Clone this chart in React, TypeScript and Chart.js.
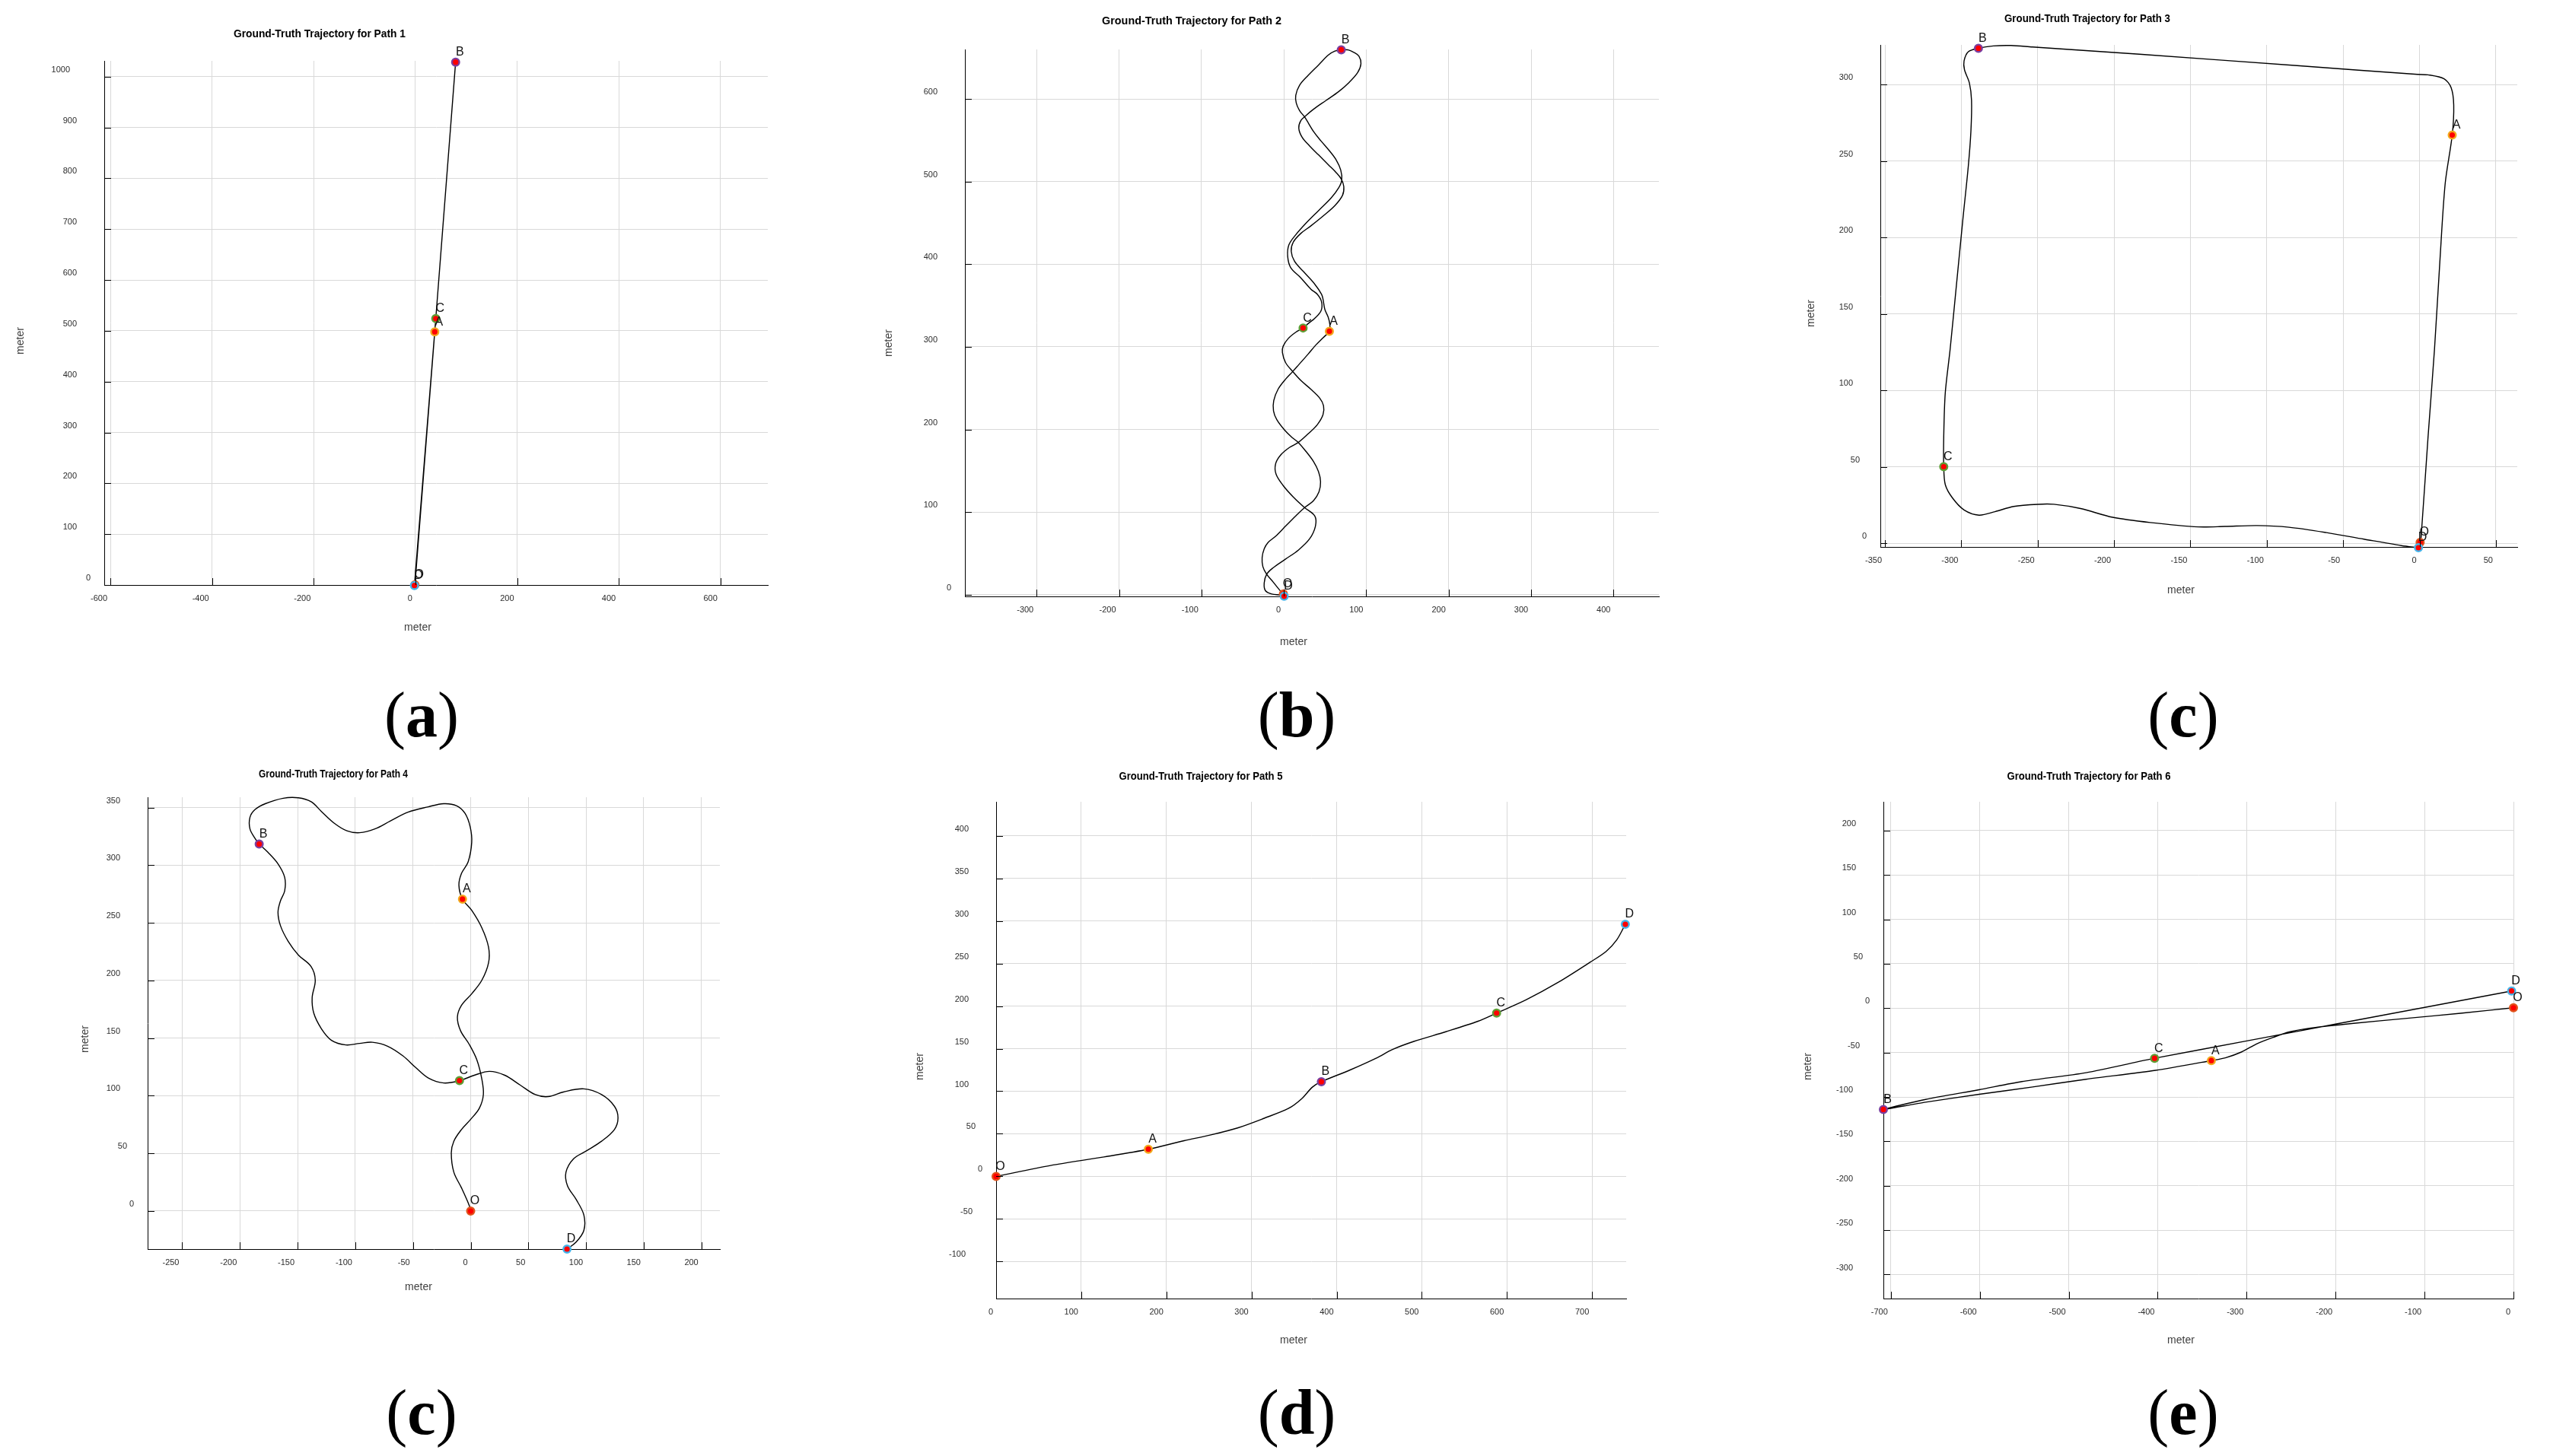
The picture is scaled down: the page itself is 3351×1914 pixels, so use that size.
import React, { useEffect, useRef } from 'react';
import { Chart, registerables } from 'chart.js';

Chart.register(...registerables);

// ---------- data ----------
const markerNames = ['O', 'A', 'B', 'C', 'D'];
const markerRing = ['#e0521b', '#f2a81d', '#7b3fa0', '#5f9e35', '#45b4ea'];

const panelTitles = [
  'Ground-Truth Trajectory for Path 1',
  'Ground-Truth Trajectory for Path 2',
  'Ground-Truth Trajectory for Path 3',
  'Ground-Truth Trajectory for Path 4',
  'Ground-Truth Trajectory for Path 5',
  'Ground-Truth Trajectory for Path 6',
];
const panelLetters = ['a', 'b', 'c', 'c', 'd', 'e'];
const axisTitle = 'meter';

// Path 1
const path1X = [-1, 38, 79, 40, -2];
const path1Y = [0.5, 498, 1028.5, 524, -1];
const marks1X = [-1, 38, 79, 40, -2];
const marks1Y = [0.5, 498, 1028.5, 524, -1];
const ticks1X = [-600, -400, -200, 0, 200, 400, 600];
const ticks1Y = [0, 100, 200, 300, 400, 500, 600, 700, 800, 900, 1000];

// Path 2 (O->A, A->B, B->C, C->D)
const path2X = [
  -0.6, -4, -13.2, -20.9, -25.5, -26.4, -23.9, -19.3, -10.1, 2.1, 14.4, 25.1, 35.9, 42.6, 44.5, 42, 35.9, 26.7, 17.5, 9.8, 0.6, -8.6, -12.6, -12.3, -7.1, 2.1, 10.7, 17.5, 29.7, 38.9, 48.1, 55.2,
  55.8, 53.7, 49.7, 47.5, 45.7, 37.4, 23.6, 12.9, 8.9, 11.3, 20.5, 32.8, 48.1, 61.9, 71.1, 72.7, 69.6, 63.5, 54.3, 42, 31.3, 22.1, 18.1, 20.5, 26.7, 35.9, 51.2, 66.5, 78.8, 89.5, 93.5, 91.1, 84.9, 77.3, 69.6,
  61.9, 54.3, 42, 29.7, 19, 14.4, 15, 19, 25.1, 36.5, 45.1, 54.3, 63.5, 69, 70.2, 66.5, 57.3, 42, 26.7, 14.4, 6.1, 4.6, 8.3, 20.5, 32.8, 40.5, 45.7, 45.1, 37.4, 29.7, 23.3,
  14.4, 5.2, -0.9, -1.8, 2.1, 10.7, 20.5, 32.8, 43.5, 48.1, 47.5, 40.5, 29.7, 17.5, 6.7, -4, -10.1, -9.5, -0.9, 11.3, 25.1, 37.4, 38.3, 31.3, 17.5, 2.1, -13.2, -20.9, -23.9, -22.4, -14.7, -4, 0.3,
];
const path2Y = [
  0.9, 4.3, 15.6, 24.8, 34, 44.8, 55.5, 63.2, 70.8, 83.1, 95.4, 105.5, 113.8, 124.5, 136.8, 149, 161.3, 173.6, 184.3, 190.4, 199.6, 211.9, 222.6, 234.9, 248.7, 261, 270.2, 277.8, 291.6, 302.4, 311.6, 318.9,
  326.9, 336.1, 345.3, 357.6, 363.7, 376, 391.3, 403.6, 415.8, 426.6, 437.3, 446.5, 458.8, 471, 483.3, 494, 503.2, 510.9, 520.1, 532.4, 543.1, 553.8, 564.6, 573.8, 579.9, 587.6, 598.3, 609, 619.8, 632, 642.7, 651.9, 656.5, 659.6, 659.6,
  658.1, 653.5, 641.2, 628.9, 616.7, 604.4, 595.2, 586, 578.3, 559.9, 549.2, 538.5, 526.2, 513.9, 501.7, 492.5, 480.2, 464.9, 449.6, 435.7, 423.5, 409.7, 395.9, 383.6, 369.8, 363.7, 354.5, 343.8, 334.6, 328.4, 322.9,
  317.7, 310, 300.8, 293.2, 280.9, 270.2, 259.4, 248.7, 238, 228.8, 218, 205.8, 195, 184.3, 178.2, 169, 158.2, 146, 132.2, 118.4, 105.5, 95.4, 83.1, 67.8, 54, 43.2, 32.5, 24.8, 14.1, 4.9, 0.9, -0.3, -1.8,
];
const marks2X = [-0.6, 55.2, 69.6, 23.3, 0.3];
const marks2Y = [0.9, 318.9, 659.6, 322.9, -1.8];
const ticks2X = [-300, -200, -100, 0, 100, 200, 300, 400];
const ticks2Y = [0, 100, 200, 300, 400, 500, 600];

// Path 3
const path3X = [0.4, 1.05, 5.6, 9.8, 13.3, 16.8, 21.4, 22.4, 20.7, 16.1, 5.6, -1.4, -78.4, -183.4, -253.4, -267.4, -279, -288.8, -295.4, -298.2, -297.9, -294.7, -293.3, -293.7, -295.4, -298.9, -303.1, -307.3, -310.5, -311.5, -311.5, -310.5, -305.9, -298.2, -288.4, -277.9, -265.7, -249.9, -239.4, -221.9, -200.9, -176.4, -144.9, -127.4, -106.4, -85.4, -60.9, -36.4, -11.9, -0.7];
const path3Y = [0.6, 4.2, 69.8, 126.9, 184, 235.3, 267, 286.6, 298, 303.8, 306.4, 306.7, 312.3, 319.9, 324.6, 325.6, 325.3, 323.8, 321.5, 315.5, 309.7, 301.1, 289.7, 269.7, 246.8, 212.6, 169.8, 127, 98.3, 69.8, 50.1, 38.4, 29.8, 21.8, 18.4, 20.7, 24.1, 25.5, 25.5, 22.7, 17, 13.6, 10.7, 11, 11.6, 10.5, 7, 2.7, -1.5, -2.9];
const marks3X = [0.4, 21.4, -288.8, -311.5, -0.7];
const marks3Y = [0.6, 267, 323.8, 50.1, -2.9];
const ticks3X = [-350, -300, -250, -200, -150, -100, -50, 0, 50];
const ticks3Y = [0, 50, 100, 150, 200, 250, 300];

// Path 4
const path4X = [0, -1.3, -8, -14.6, -16.8, -14.6, -8, -0.4, 7.5, 11, 9.7, 5.3, -1.3, -8.8, -11.5, -8, 0.9, 9.7, 15.5, 15.5, 9.7, 0.9, -7.1, -10.2, -8, -2.2, 0.9, -0.4, -4.9, -12.4, -23.4, -36.7, -54.3, -69.8, -83, -96.3, -107.3, -118.4, -129.4, -138.3, -149.3, -162.5, -178, -186.8, -191.3, -191.3, -186.8, -183.3, -175.8, -167, -161.2, -161.2, -164.8, -167, -164.8, -158.1, -149.3, -138.3, -134.7, -137.4, -136, -129.4, -120.6, -108.2, -96.3, -85.2, -72, -58.7, -47.7, -36.7, -23.4, -9.7, 3.1, 16.3, 29.6, 42.8, 56.1, 67.1, 80.4, 98.1, 113.5, 124.6, 127.7, 124.6, 113.5, 100.3, 89.2, 82.6, 83.9, 91.4, 98.1, 98.1, 91.4, 83.5];
const path4Y = [0, 5, 20.2, 33.7, 50.5, 60.6, 70.7, 79.1, 89.2, 101, 114.4, 131.3, 144.7, 156.5, 168.3, 178.4, 188.5, 200.3, 215.4, 228.9, 245.7, 260.9, 270.6, 282.7, 292.8, 302.9, 319.8, 333.2, 345, 351.7, 353.4, 350.7, 346, 338.3, 331.5, 328.2, 329.9, 336.6, 346.7, 355.1, 358.5, 358.1, 353.4, 348.4, 341.6, 331.5, 323.1, 318.4, 311.3, 301.2, 289.5, 277.7, 269.3, 259.2, 247.4, 233.9, 222.1, 212.1, 200.3, 185.1, 171.7, 158.2, 148.1, 144.1, 145.4, 146.4, 143, 134.6, 124.5, 115.4, 111.1, 113.1, 117.8, 121.2, 117.8, 109.4, 101, 99.3, 103.3, 106, 101, 90.9, 80.8, 70.7, 60.6, 52.2, 45.4, 33.7, 21.9, 10.1, -3.4, -16.8, -26.9, -33];
const marks4X = [0, -7.1, -183.3, -9.7, 83.5];
const marks4Y = [0, 270.6, 318.4, 113.1, -33];
const ticks4X = [-250, -200, -150, -100, -50, 0, 50, 100, 150, 200];
const ticks4Y = [0, 50, 100, 150, 200, 250, 300, 350];

// Path 5
const path5X = [0, 64, 126.7, 178.8, 220.8, 252.2, 283.6, 314.9, 343.2, 358.8, 371.4, 382, 415.3, 446.7, 465.5, 490.6, 528.2, 565.9, 587.8, 622.3, 660, 697.6, 716.4, 729, 739];
const path5Y = [0, 12.8, 22.8, 31.9, 41.9, 48.7, 56.9, 68.3, 79.7, 91.1, 104.8, 111.2, 124.8, 139, 149, 158.5, 169.9, 182.2, 191.8, 207.3, 227.8, 251.5, 264.2, 277.9, 296.1];
const marks5X = [0, 178.8, 382, 587.8, 739];
const marks5Y = [0, 31.9, 111.2, 191.8, 296.1];
const ticks5X = [0, 100, 200, 300, 400, 500, 600, 700];
const ticks5Y = [-100, -50, 0, 50, 100, 150, 200, 250, 300, 350, 400];

// Path 6
const path6X = [0, -59.5, -119.7, -179.8, -227.9, -252, -270, -288, -306, -324, -339.7, -402.3, -480.5, -540.6, -600.7, -660.9, -708.4, -660.9, -600.7, -552.6, -480.5, -403.5, -300, -200.2, -99.8, -2.1];
const path6Y = [0.5, -5.7, -11.4, -17, -22.3, -26.7, -32.8, -39.8, -49.4, -55.9, -59, -70, -80, -88.7, -97, -105.8, -114, -102.7, -91.8, -82.6, -72.6, -56.4, -36.9, -17.9, 0.9, 19.4];
const marks6X = [0, -339.7, -708.4, -403.5, -2.1];
const marks6Y = [0.5, -59, -114, -56.4, 19.4];
const ticks6X = [-700, -600, -500, -400, -300, -200, -100, 0];
const ticks6Y = [-300, -250, -200, -150, -100, -50, 0, 50, 100, 150, 200];

// ---------- layout (page pixels) ----------
const layouts = [
  { L: 137, T: 80, R: 1009, B: 769, xMin: -612, xMax: 693, yMin: 0, yMax: 1031, title: [420, 45, 226], xt: [549, 825], yt: [27, 448], tension: 0 },
  { L: 1268, T: 65, R: 2180, B: 784, xMin: -387, xMax: 455, yMin: -2, yMax: 660, title: [1566, 28, 236], xt: [1700, 844], yt: [1168, 451], tension: 0.35 },
  { L: 2471, T: 59, R: 3308, B: 719, xMin: -353, xMax: 64, yMin: -2.4, yMax: 326, title: [2743, 25, 218], xt: [2866, 776], yt: [2380, 412], tension: 0.3 },
  { L: 194, T: 1048, R: 946, B: 1642, xMin: -280, xMax: 216, yMin: -33, yMax: 359, title: [438, 1018, 196], xt: [550, 1692], yt: [112, 1366], tension: 0.35 },
  { L: 1309, T: 1054, R: 2137, B: 1707, xMin: 0, xMax: 740, yMin: -143.5, yMax: 440, title: [1578, 1021, 215], xt: [1700, 1762], yt: [1209, 1402], tension: 0.3 },
  { L: 2475, T: 1054, R: 3303, B: 1707, xMin: -708.4, xMax: 0, yMin: -327, yMax: 232.5, title: [2745, 1021, 215], xt: [2866, 1762], yt: [2376, 1402], tension: 0.25 },
];

const panelData = [
  { px: path1X, py: path1Y, mx: marks1X, my: marks1Y, tx: ticks1X, ty: ticks1Y },
  { px: path2X, py: path2Y, mx: marks2X, my: marks2Y, tx: ticks2X, ty: ticks2Y },
  { px: path3X, py: path3Y, mx: marks3X, my: marks3Y, tx: ticks3X, ty: ticks3Y },
  { px: path4X, py: path4Y, mx: marks4X, my: marks4Y, tx: ticks4X, ty: ticks4Y },
  { px: path5X, py: path5Y, mx: marks5X, my: marks5Y, tx: ticks5X, ty: ticks5Y },
  { px: path6X, py: path6Y, mx: marks6X, my: marks6Y, tx: ticks6X, ty: ticks6Y },
];

const labelPos = [
  [554, 898], [1704, 898], [2869, 898],
  [554, 1815], [1704, 1815], [2869, 1815],
];

const SANS = '"Liberation Sans", Arial, Helvetica, sans-serif';
const NARROW = '"Liberation Sans Narrow", "Arial Narrow", "Liberation Sans", Arial, sans-serif';
const Y_AXIS_W = 130;
const X_AXIS_H = 80;
const PAD_R = 30;

function Panel({ idx }: { idx: number }) {
  const ref = useRef<HTMLCanvasElement | null>(null);
  const p = layouts[idx];
  const d = panelData[idx];
  const cl = p.L - Y_AXIS_W;
  const ct = Math.max(0, p.T - 60);
  const cw = p.R - p.L + Y_AXIS_W + PAD_R;
  const chh = p.B - ct + X_AXIS_H;

  useEffect(() => {
    if (!ref.current) return;
    const deco = {
      id: 'panelDeco' + idx,
      afterDraw(chart: any) {
        const ctx = chart.ctx as CanvasRenderingContext2D;
        const xs = chart.scales.x;
        const ys = chart.scales.y;
        const { left, bottom } = chart.chartArea;
        ctx.save();
        // inward ticks
        ctx.strokeStyle = '#000';
        ctx.lineWidth = 1;
        ctx.beginPath();
        for (const v of d.tx) {
          const x = Math.round(xs.getPixelForValue(v)) + 0.5;
          ctx.moveTo(x, bottom);
          ctx.lineTo(x, bottom - 9);
        }
        for (const v of d.ty) {
          const y = Math.round(ys.getPixelForValue(v)) + 0.5;
          ctx.moveTo(left, y);
          ctx.lineTo(left + 9, y);
        }
        ctx.stroke();

        // tick labels
        ctx.fillStyle = '#2b2b2b';
        ctx.font = `11px ${SANS}`;
        ctx.textBaseline = 'middle';
        ctx.textAlign = 'right';
        for (const v of d.tx) {
          ctx.fillText(String(v), xs.getPixelForValue(v) - 4, bottom + 18);
        }
        for (const v of d.ty) {
          const s = String(v);
          const n = s.replace('-', '').length;
          const off = 18 + 9 * (n - 1) + (v < 0 ? 4 : 0);
          ctx.fillText(s, left - off, ys.getPixelForValue(v) - 9);
        }

        // point letters
        ctx.fillStyle = '#111';
        ctx.font = `16px ${SANS}`;
        ctx.textAlign = 'center';
        d.mx.forEach((mx: number, i: number) => {
          ctx.fillText(markerNames[i], xs.getPixelForValue(mx) + 5.5, ys.getPixelForValue(d.my[i]) - 13);
        });

        // axis titles
        ctx.fillStyle = '#404040';
        ctx.font = `14px ${SANS}`;
        ctx.fillText(axisTitle, p.xt[0] - cl, p.xt[1] - ct);
        ctx.save();
        ctx.translate(p.yt[0] - cl, p.yt[1] - ct);
        ctx.rotate(-Math.PI / 2);
        ctx.fillText(axisTitle, 0, 0);
        ctx.restore();

        // chart title, fitted to width
        ctx.fillStyle = '#000';
        ctx.font = `bold 14px ${NARROW}`;
        const t = panelTitles[idx];
        const m = ctx.measureText(t).width;
        const sx = p.title[2] / m;
        ctx.save();
        ctx.translate(p.title[0] - cl, p.title[1] - ct);
        ctx.scale(sx, 1);
        ctx.fillText(t, 0, 0);
        ctx.restore();

        ctx.restore();
      },
    };

    const fixY = (s: any) => {
      s.width = Y_AXIS_W;
      s.paddingLeft = 0; s.paddingRight = 0; s.paddingTop = 0; s.paddingBottom = 0;
    };
    const fixX = (s: any) => {
      s.height = X_AXIS_H;
      s.paddingLeft = 0; s.paddingRight = 0; s.paddingTop = 0; s.paddingBottom = 0;
    };

    const chart = new Chart(ref.current, {
      type: 'scatter',
      data: {
        datasets: [
          {
            data: d.mx.map((x: number, i: number) => ({ x, y: d.my[i] })),
            showLine: false,
            pointRadius: 4.8,
            pointHoverRadius: 4.8,
            pointBorderWidth: 2.4,
            pointBackgroundColor: '#ff0000',
            pointBorderColor: markerRing,
            clip: false,
            order: 0,
          } as any,
          {
            data: d.px.map((x: number, i: number) => ({ x, y: d.py[i] })),
            showLine: true,
            borderColor: '#000',
            borderWidth: 1.4,
            borderJoinStyle: 'round',
            pointRadius: 0,
            pointHoverRadius: 0,
            tension: p.tension,
            clip: false,
            order: 1,
          } as any,
        ],
      },
      options: {
        responsive: false,
        animation: false,
        devicePixelRatio: 1,
        events: [],
        layout: { padding: { top: p.T - ct, right: PAD_R, left: 0, bottom: 0 } },
        plugins: {
          legend: { display: false },
          tooltip: { enabled: false },
          title: { display: false },
        },
        scales: {
          x: {
            type: 'linear',
            position: 'bottom',
            min: p.xMin,
            max: p.xMax,
            grid: { color: '#d9d9d9', lineWidth: 1, drawTicks: false },
            border: { display: true, color: '#000', width: 1 },
            ticks: { display: false },
            title: { display: false },
            afterBuildTicks: (s: any) => { s.ticks = d.tx.map((v: number) => ({ value: v })); },
            afterFit: fixX,
          },
          y: {
            type: 'linear',
            position: 'left',
            min: p.yMin,
            max: p.yMax,
            grid: { color: '#d9d9d9', lineWidth: 1, drawTicks: false },
            border: { display: true, color: '#000', width: 1 },
            ticks: { display: false },
            title: { display: false },
            afterBuildTicks: (s: any) => { s.ticks = d.ty.map((v: number) => ({ value: v })); },
            afterFit: fixY,
          },
        },
      } as any,
      plugins: [deco as any],
    });
    return () => chart.destroy();
  }, []);

  return (
    <canvas
      ref={ref}
      width={cw}
      height={chh}
      style={{ position: 'absolute', left: cl, top: ct, width: cw, height: chh, display: 'block' }}
    />
  );
}

export default function App() {
  return (
    <div style={{ position: 'absolute', left: 0, top: 0, width: 3351, height: 1914, background: '#fff', overflow: 'hidden' }}>
      {layouts.map((_, i) => <Panel key={i} idx={i} />)}
      {labelPos.map((pos, i) => (
        <div
          key={'lbl' + i}
          style={{
            position: 'absolute',
            left: pos[0],
            top: pos[1],
            transform: 'translateX(-50%)',
            fontFamily: '"Liberation Serif", "Times New Roman", serif',
            fontSize: 84,
            lineHeight: '84px',
            whiteSpace: 'nowrap',
            color: '#000',
          }}
        >
          (<b>{panelLetters[i]}</b>)
        </div>
      ))}
    </div>
  );
}
